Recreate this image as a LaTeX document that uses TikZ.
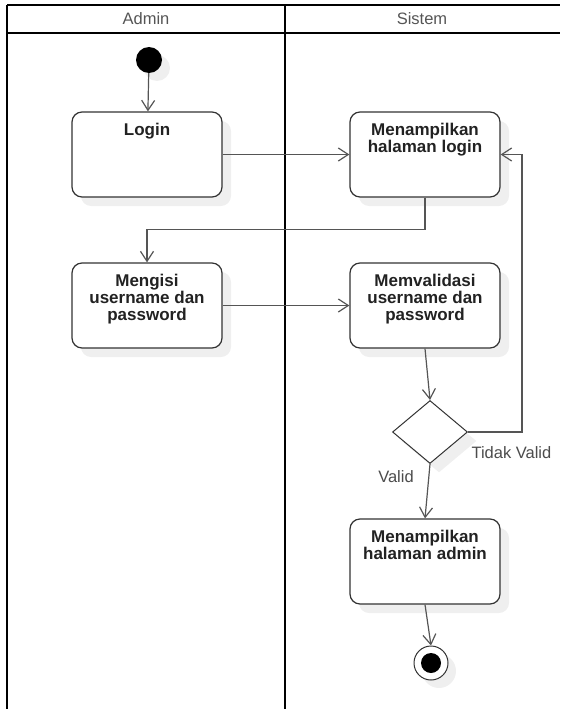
\documentclass[tikz,border=0pt]{standalone}
\usepackage{fontspec}
\setmainfont{Liberation Sans}
\usetikzlibrary{arrows.meta,shapes.geometric,shadows}

\definecolor{edge}{HTML}{555555}
\definecolor{frame}{HTML}{333333}
\definecolor{ink}{HTML}{222222}
\definecolor{shade}{HTML}{EFEFEF}
\definecolor{lanetext}{HTML}{555555}

% activity text sits at the top of the rounded box
\newcommand\acttext[1]{\parbox[c][85pt][t]{150pt}{\centering\rule{0pt}{23pt}#1}}

\tikzset{
  softshadow/.style={drop shadow={shadow xshift=9pt, shadow yshift=-9pt, fill=shade, opacity=1}},
  activity/.style={draw=frame, line width=1.2pt, rounded corners=10pt, fill=white,
    inner sep=0pt, font=\fontsize{17}{17}\selectfont\bfseries, text=ink, softshadow},
  flow/.style={draw=edge, line width=1.2pt, -{Straight Barb[length=10pt,width=13pt]}},
  lane/.style={draw=black, line width=2pt},
  lanelabel/.style={font=\fontsize{16.5}{17}\selectfont, text=lanetext},
  guard/.style={font=\fontsize{16.5}{17}\selectfont, text=black!70},
}

\begin{document}
\begin{tikzpicture}[x=1pt, y=-1pt]
\useasboundingbox (0,0) rectangle (560,709);

% swimlanes
\draw[lane] (7,5) -- (560,5);
\draw[lane] (7,33.5) -- (560,33.5);
\draw[lane] (7,5) -- (7,709);
\draw[lane] (285,5) -- (285,709);
\node[lanelabel] (laneA) at (146,19) {Admin};
\node[lanelabel] (laneS) at (422,19) {Sistem};

% start node
\node[circle, fill=black, minimum size=26pt, inner sep=0pt,
      drop shadow={shadow xshift=8pt, shadow yshift=-8pt, fill=shade, opacity=1}] (start) at (149,60) {};

% activities
\node[activity] (login) at (147,154.5) {\acttext{Login}};
\node[activity] (showlogin) at (425,154.5) {\acttext{Menampilkan\\halaman login}};
\node[activity] (input) at (147,305.5) {\acttext{Mengisi\\username dan\\password}};
\node[activity] (validate) at (425,305.5) {\acttext{Memvalidasi\\username dan\\password}};
\node[activity] (showadmin) at (425,561.5) {\acttext{Menampilkan\\halaman admin}};

% decision
\node[diamond, draw=frame, line width=1pt, fill=white, minimum width=75pt, minimum height=63pt,
      inner sep=0pt, softshadow] (check) at (430,432) {};

% final node
\node[circle, draw=frame, line width=1pt, fill=white, minimum size=34pt, inner sep=0pt,
      drop shadow={shadow xshift=8pt, shadow yshift=-8pt, fill=shade, opacity=1}] (final) at (431,663) {};
\node[circle, fill=black, minimum size=20pt, inner sep=0pt] (finaldot) at (final) {};

% control flows
\draw[flow] (start) -- (login);
\draw[flow] (login) -- (showlogin);
\draw[flow] (showlogin.south) -- ++(0,32) -| (input.north);
\draw[flow] (input) -- (validate);
\draw[flow] (validate.south) -- (check.north);
\draw[flow] (check.east) -- ++(54,0) |- (showlogin.east);
\draw[flow] (check.south) -- (showadmin.north);
\draw[flow] (showadmin.south) -- (final.north);

% guards
\node[guard] (valid) at (396,477) {Valid};
\node[guard, anchor=west] (invalid) at (468,453) {Tidak Valid};
\end{tikzpicture}
\end{document}
